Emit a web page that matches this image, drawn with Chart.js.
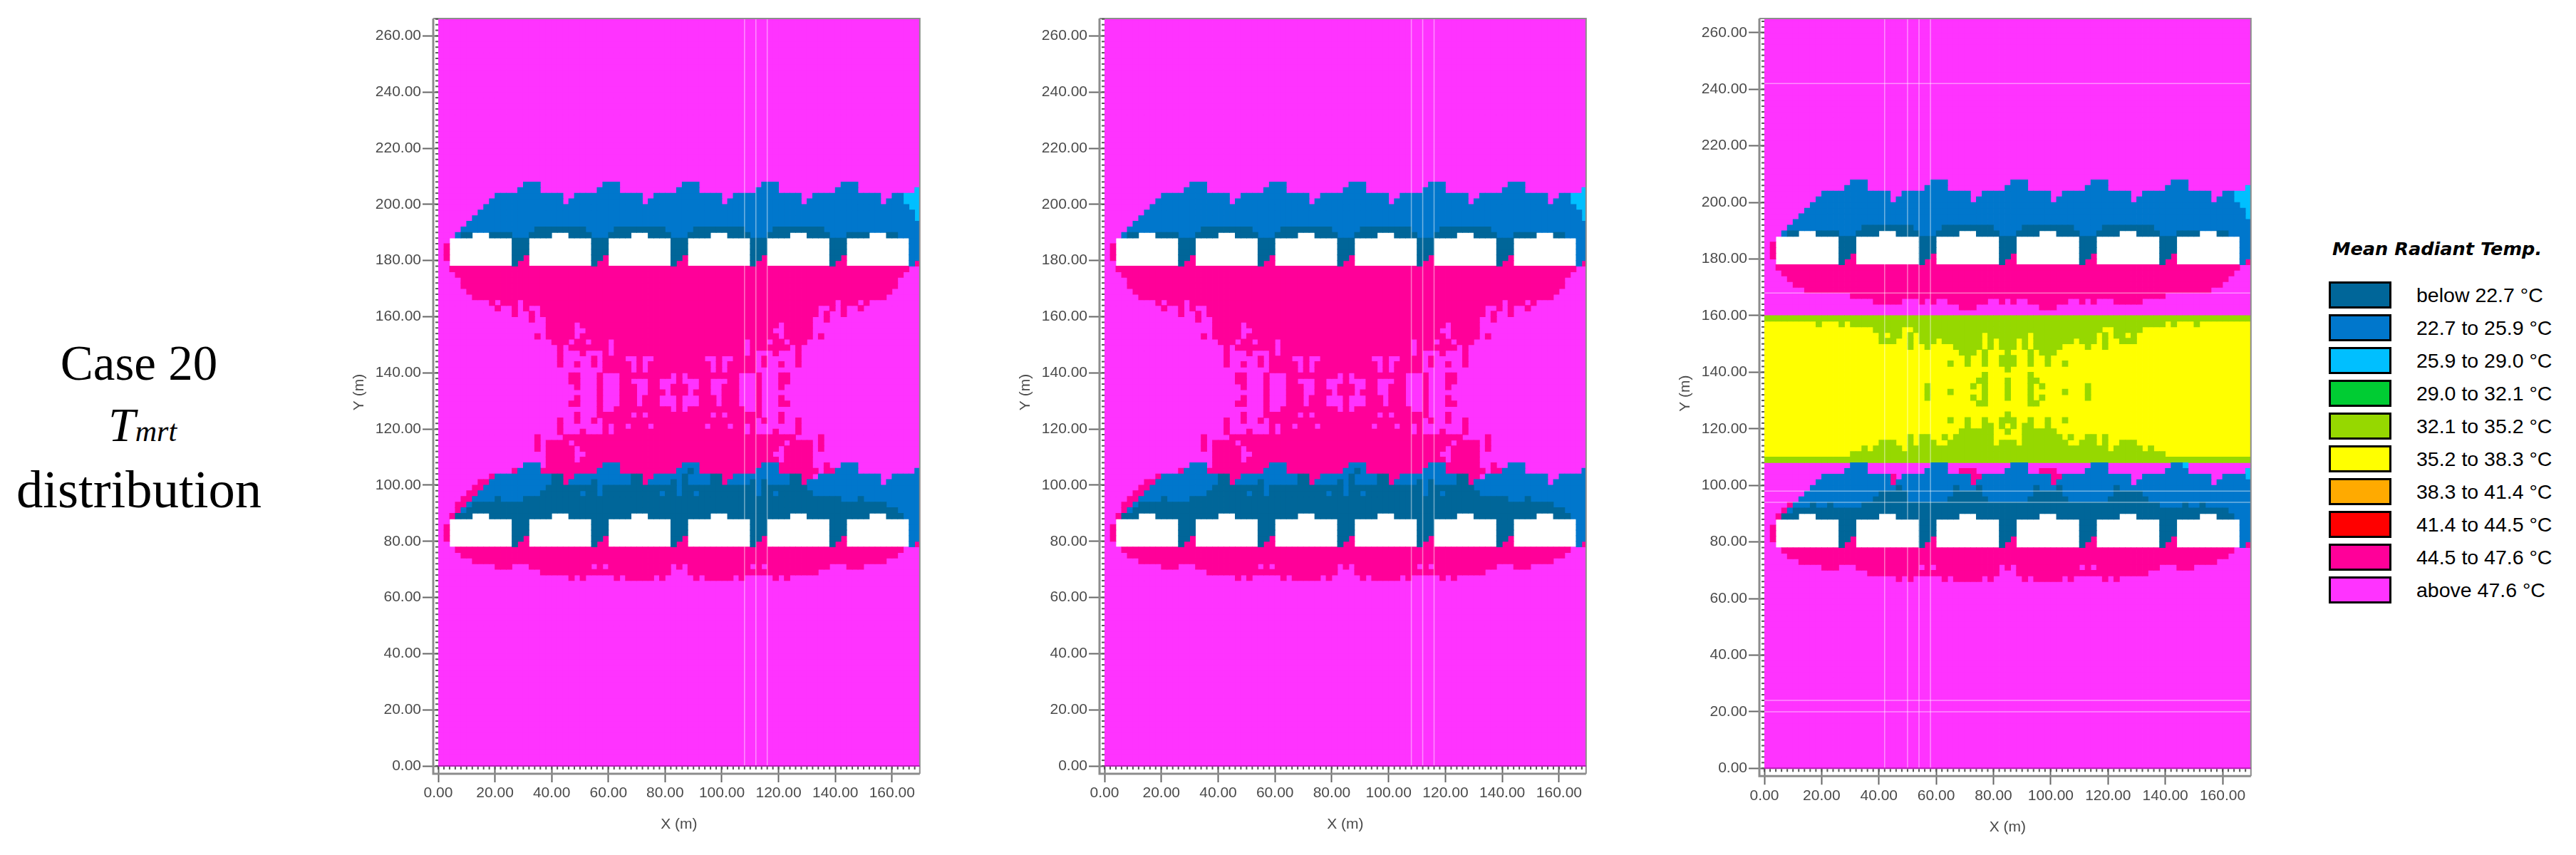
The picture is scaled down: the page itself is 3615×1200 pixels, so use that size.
<!DOCTYPE html>
<html>
<head>
<meta charset="utf-8">
<title>Case 20 Tmrt distribution</title>
<script src="https://cdn.jsdelivr.net/npm/chart.js@4/dist/chart.umd.min.js"></script>
<style>
    html, body { margin: 0; padding: 0; background: #fff; }
    body { position: relative; width: 3615px; height: 1200px; overflow: hidden; }
    canvas { position: absolute; top: 0; filter: blur(0.6px); }
    .cap { position: absolute; left: 0; width: 390px; text-align: center; font-family: "Liberation Serif", serif; color: #000; line-height: 1; white-space: nowrap; }
    .key { position: absolute; box-sizing: border-box; border: 3px solid #000; width: 88px; height: 38px; left: 3268px; }
    .lab { position: absolute; left: 3391px; font: 28.5px/38px "Liberation Sans", sans-serif; color: #000; white-space: nowrap; }
    #legendTitle { position: absolute; left: 3273px; top: 334px; font: italic bold 25.6px/30px "DejaVu Sans", sans-serif; color: #000; white-space: nowrap; }
</style>
</head>
<body>
<div class="cap" style="top:476px;font-size:69px">Case 20</div>
<div class="cap" style="top:562px;font-size:68px;font-style:italic;height:70px"><span style="margin-left:10px">T</span><span style="font-size:42px">mrt</span></div>
<div class="cap" style="top:650px;font-size:74.6px">distribution</div>
<div id="legendTitle">Mean Radiant Temp.</div>
<canvas id="panelA" width="805" height="1200" style="left:492px"></canvas>
<canvas id="panelB" width="805" height="1200" style="left:1427px"></canvas>
<canvas id="panelC" width="812" height="1200" style="left:2353px"></canvas>
<script>
// temperature classes
const classLabels = ['below 22.7 °C', '22.7 to 25.9 °C', '25.9 to 29.0 °C', '29.0 to 32.1 °C', '32.1 to 35.2 °C',
    '35.2 to 38.3 °C', '38.3 to 41.4 °C', '41.4 to 44.5 °C', '44.5 to 47.6 °C', 'above 47.6 °C'];
const classColors = ['#006699', '#0077cc', '#00bfff', '#00cc33', '#96d800', '#ffff00', '#ffaa00', '#ff0000', '#ff0099', '#ff33ff'];

const xTicks = [0, 20, 40, 60, 80, 100, 120, 140, 160];
const yTicks = [0, 20, 40, 60, 80, 100, 120, 140, 160, 180, 200, 220, 240, 260];

// pale lines of the model grid
const paleXab = [108, 112, 116];
const paleXc = [42, 50, 54, 58];
const paleYc = [242, 168, 98, 94, 24, 20];

// cells are 2 m square. every row: [y of the row, "class:columns class:columns"], w = building (no value)
// rows not listed are all class 9
const roofRows = [
    [206, '1:15-17,29-31,43-45,57-59,71-73'],
    [204, '1:14-17,28-31,42-45,56-59,70-73 2:84'],
    [202, '1:10-21,24-35,38-49,52-63,66-77,80-81 2:82-84'],
    [200, '1:9-21,23-35,37-49,51-63,65-77,79-81 2:82-84'],
    [198, '1:8-82 2:83-84'],
    [196, '1:7-83 2:84'],
    [194, '1:6-83 2:84'],
    [192, '1:5-84'],
    [190, '1:4-84 0:17-25,31-39,45-53,59-67'],
    [188, '1:3-84 0:4-5,9-12,16-19,23-26,30-33,37-40,44-47,51-54,58-61,65-68,72-75,79-80 w:6-8,20-22,34-36,48-50,62-64,76-78'],
    [186, 'w:2-12,16-26,30-40,44-54,58-68,72-82 0:13-15,27-29,41-43,55-57,69-71 1:83-84'],
    [184, '8:1 w:2-12,16-26,30-40,44-54,58-68,72-82 0:13-15,27-29,41-43,55-57,69-71 1:83-84'],
    [182, '8:1 w:2-12,16-26,30-40,44-54,58-68,72-82 0:13-15,27-29,41-43,55-57,69-71 1:83-84'],
    [180, '8:1 w:2-12,16-26,30-40,44-54,58-68,72-82 0:13-14,27-28,41-42,55-56,69-70 8:15,29,43,57,71 1:83-84'],
    [178, 'w:2-12,16-26,30-40,44-54,58-68,72-82 0:13,27,41,55,69 8:14-15,28-29,42-43,56-57,70-71 1:83 8:84']
];

const baseRows = [
    [88, '8:2 0:3-81 1:82-84 w:6-8,20-22,34-36,48-50,62-64,76-78'],
    [86, 'w:2-12,16-26,30-40,44-54,58-68,72-82 0:13-15,27-29,41-43,55-57,69-71 1:83-84'],
    [84, '8:1 w:2-12,16-26,30-40,44-54,58-68,72-82 0:13-15,27-29,41-43,55-57,69-71 1:83-84'],
    [82, '8:1 w:2-12,16-26,30-40,44-54,58-68,72-82 0:13-15,27-29,41-43,55-57,69-71 1:83-84'],
    [80, '8:1 w:2-12,16-26,30-40,44-54,58-68,72-82 0:13-14,27-28,41-42,55-56,69-70 8:15,29,43,57,71 1:83-84'],
    [78, 'w:2-12,16-26,30-40,44-54,58-68,72-82 0:13,27,41,55,69 8:14-15,28-29,42-43,56-57,70-71 1:83 8:84'],
    [76, '8:3-81'],
    [74, '8:4-80'],
    [72, '8:6-78'],
    [70, '8:10-12,16-26,28,30-40,42,44-54,56,58-68,72-74'],
    [68, '8:18-40,44-66'],
    [66, '8:23,25,31,33-37,39,45,47-51,53,59,61']
];

// first two panels
const middleRowsAB = [
    [176, '8:2-82'],
    [174, '8:3-81'],
    [172, '8:4-80'],
    [170, '8:4-80'],
    [168, '8:5-79'],
    [166, '8:6-78'],
    [164, '8:9,11-13,15-69,71-73,75'],
    [162, '8:10,13,15,18-66,69,71,74'],
    [160, '8:13,16,18-66,68,71'],
    [158, '8:16,19-65,68'],
    [156, '8:19-23,25-59,61-65'],
    [154, '8:19-23,26-58,61-65'],
    [152, '8:17,19-23,25-59,61-65,67'],
    [150, '8:20-22,24-25,27-29,31-53,55-57,59-60,62-64'],
    [148, '8:21,23-29,31-53,55-61,63'],
    [146, '8:21,25,29,31-53,55,59,63'],
    [144, '8:21,27,29-32,35,38-46,49,52-55,57,63'],
    [142, '8:21,24,27,29-33,35,37-47,49,51-55,57,60,63'],
    [140, '8:29-33,35,37-47,49,51-55'],
    [138, '8:23-24,28,32-40,42,44-52,56,60-61'],
    [136, '8:23-24,28,32-33,37-38,42,46-47,51-52,56,60-61'],
    [134, '8:24,28,32-34,37-38,41-43,46-47,50-52,56,60'],
    [132, '8:28,32-34,37-39,41-43,45-47,50-52,56'],
    [130, '8:24,28,32-34,36-38,42,46-48,50-52,56,60'],
    [128, '8:23-24,28,32-34,36-38,42,46-48,50-52,56,60-61'],
    [126, '8:28,31-40,42,44-53,56'],
    [124, '8:24,28-33,35,37-47,49,51-56,60'],
    [122, '8:21,24,27,29-55,57,60,63'],
    [120, '8:21,29,31-32,34-36,38-46,48-50,52-53,55,63'],
    [118, '8:21,25,29,31-53,55,59,63'],
    [116, '8:17,22-62,67'],
    [114, '8:17,19-22,24-60,62-65,67'],
    [112, '8:17,19-23,25-59,61-65,67'],
    [110, '8:19-23,26-58,61-65'],
    [108, '8:19-23,25-59,61-65'],
    [106, '8:19-65,68 1:15-17,29-31,43-45,57-59,71-73'],
    [104, '8:13,18-27,32-41,46-55,60-66,68-69 1:14-17,28-31,42-45,56-59,70-73,84 0:44'],
    [102, '8:9,22-23,36-37,50-51,64-65 1:10-19,24-33,38-47,52-61,67-77,80-84 0:20-21,34-35,43,48-49,62-63'],
    [100, '8:7-8,22,36,50,64 1:9-19,23-33,37-47,51-61,65-77,79-84 0:20-21,27,34-35,41,43,48-49,55,57,62-63'],
    [98, '8:6-7 1:8-18,65-84 0:19-64 1:28,42,56'],
    [96, '8:5-6 1:7-17,66-84 0:18-65 1:25,28,39,42,45,56,59'],
    [94, '8:4-5 1:6-14,71-84 0:15-70,10,74'],
    [92, '8:3-4 1:5,79-84 0:6-78'],
    [90, '8:3 1:4,81-84 0:5-80']
];

// third panel, with the cool band
const middleRowsC = [
    [176, '8:2-82'],
    [174, '8:3-81'],
    [172, '8:4-80'],
    [170, '8:5-79'],
    [168, '8:7-77'],
    [166, '8:15-69'],
    [164, '8:19-23,27,29,32-38,41,43,46-52,55,57,61-65'],
    [162, '8:34-36,48-50'],
    [158, '4:0-84'],
    [156, '5:0-84 4:9,13,15-69,71,75'],
    [154, '5:0-84 4:19-23,26-58,61-65'],
    [152, '5:0-84 4:20,22-23,25,27-37,39-45,47-57,59,61-62,64'],
    [150, '5:0-84 4:20-22,25,27-29,31-37,39,41-43,45,47-53,55-57,59,62-64'],
    [148, '5:0-84 4:25,28,33-37,39,41-43,45,47-51,56,59'],
    [146, '5:0-84 4:34-36,38,42,46,48-50'],
    [144, '5:0-84 4:35,38,41-43,46,49'],
    [142, '5:0-84 4:32,35,38,41-43,46,49,52'],
    [140, '5:0-84 4:42'],
    [138, '5:0-84 4:38,46'],
    [136, '5:0-84 4:37-38,42,46-47'],
    [134, '5:0-84 4:28,36,38,42,46,48,56'],
    [132, '5:0-84 4:28,32,38,42,46,52,56'],
    [130, '5:0-84 4:28,36,38,42,46,48,56'],
    [128, '5:0-84 4:37-38,46-47'],
    [126, '5:0-84'],
    [124, '5:0-84 4:42'],
    [122, '5:0-84 4:32,35,38,41-43,46,49,52'],
    [120, '5:0-84 4:35,38-39,41,43,45-46,49'],
    [118, '5:0-84 4:34-39,42,45-50'],
    [116, '5:0-84 4:25,27-28,31,33-39,45-51,53,56-57,59'],
    [114, '5:0-84 4:20-22,25,27-29,32-39,41-43,45-52,55-57,59,62-64'],
    [112, '5:0-84 4:17,19-23,25-59,61-65,67'],
    [110, '5:0-84 4:15-69'],
    [108, '4:0-84'],
    [106, '1:15-17,29-31,43-45,57-59,71-72 2:73'],
    [104, '1:14-17,28-31,42-45,56-59,70-73 8:34-36,48-50 2:84'],
    [102, '1:10-21,24-35,38-49,52-63,66-77,80-83 8:22,36-37,50-51 2:84'],
    [100, '1:9-21,23-35,37-49,51-63,65-77,79-84 8:22,36,50'],
    [98, '1:8-84 0:23,33,37,47,51,61'],
    [96, '1:7-84 0:20-24,33-37,47-51,61-65'],
    [94, '1:6-84 0:19-24,32-38,46-52,60-66'],
    [92, '8:4 1:5-84 0:8,11,17-68,73,76'],
    [90, '8:3 1:4 0:5-80 1:81-84']
];

const COLS = 85, ROWS = 133;

// turn row strings into one point list per class
function cellsFrom(rows) {
    const grid = [];
    for (let r = 0; r < ROWS; r++) grid.push(new Array(COLS).fill(9));
    rows.forEach(([y, spec]) => {
        spec.split(' ').forEach(part => {
            const [cls, cols] = part.split(':');
            cols.split(',').forEach(span => {
                const [a, b] = span.split('-').map(Number);
                for (let c = a; c <= (b === undefined ? a : b); c++) {
                    grid[y / 2][c] = cls === 'w' ? -1 : Number(cls);
                }
            });
        });
    });
    const perClass = classColors.map(() => []);
    grid.forEach((row, r) => row.forEach((cls, c) => {
        if (cls >= 0) perClass[cls].push({ x: c * 2 + 1, y: r * 2 + 1 });
    }));
    return perClass;
}

// frame and small ticks round the plot
const framePlugin = {
    id: 'frame',
    afterDraw(chart) {
        const ctx = chart.ctx, xs = chart.scales.x, ys = chart.scales.y;
        const x0 = xs.getPixelForValue(0), y0 = ys.getPixelForValue(0);
        const right = chart.chartArea.right, top = chart.chartArea.top;
        ctx.save();
        ctx.strokeStyle = '#8c8c8c';
        ctx.lineWidth = 3;
        ctx.beginPath();
        ctx.moveTo(x0 - 7, top);
        ctx.lineTo(x0 - 7, y0 + 11);
        ctx.lineTo(right, y0 + 11);
        ctx.stroke();
        ctx.lineWidth = 2;
        ctx.beginPath();
        ctx.moveTo(x0 - 7, top);
        ctx.lineTo(right, top);
        ctx.lineTo(right, y0 + 11);
        ctx.stroke();
        ctx.strokeStyle = '#b81cb8';
        ctx.beginPath();
        ctx.moveTo(x0, y0);
        ctx.lineTo(right, y0);
        ctx.stroke();
        ctx.fillStyle = '#555';
        for (let v = 0; v < xs.max; v += 2) {
            ctx.fillRect(xs.getPixelForValue(v) - 1, y0 + 1, 2, 4);
        }
        for (let v = 0; v < ys.max; v += 2) {
            ctx.fillRect(x0 - 4, ys.getPixelForValue(v) - 1, 4, 2);
        }
        ctx.restore();
    }
};

function palePoints(xs, ys, xMax, yMax) {
    const sets = [];
    xs.forEach(v => sets.push([{ x: v, y: 0 }, { x: v, y: yMax }]));
    ys.forEach(v => sets.push([{ x: 0, y: v }, { x: xMax, y: v }]));
    return sets;
}

function initPanel(id, rows, pale, box) {
    const perClass = cellsFrom(rows);
    const lines = palePoints(pale.x, pale.y, box.xMax, box.yMax).map(pts => ({
        data: pts,
        showLine: true,
        borderColor: 'rgba(255,255,255,0.45)',
        borderWidth: 1.5,
        pointRadius: 0
    }));
    const cells = perClass.map((pts, i) => ({
        label: classLabels[i],
        data: pts,
        backgroundColor: classColors[i],
        pointStyle: 'rect',
        pointRadius: 6.2,
        pointBorderWidth: 0,
        pointHoverRadius: 6.2
    }));
    new Chart(document.getElementById(id), {
        type: 'scatter',
        data: { datasets: lines.concat(cells) },
        options: {
            responsive: false,
            animation: false,
            devicePixelRatio: 1,
            layout: { padding: { top: 26, right: box.padRight, bottom: box.padBottom, left: 0 } },
            plugins: { legend: { display: false }, tooltip: { enabled: false } },
            events: [],
            scales: {
                x: {
                    type: 'linear',
                    min: 0,
                    max: box.xMax,
                    afterBuildTicks: s => { s.ticks = xTicks.map(v => ({ value: v })); },
                    afterFit: s => { s.height = box.xAxisH; },
                    border: { display: false },
                    grid: { drawOnChartArea: false, tickLength: 23, tickColor: '#666', tickWidth: 2 },
                    ticks: {
                        color: '#4a4a4a',
                        font: { family: 'Liberation Sans', size: 21 },
                        padding: 3,
                        maxRotation: 0,
                        autoSkip: false,
                        callback: v => v.toFixed(2)
                    },
                    title: { display: true, text: 'X (m)', color: '#4a4a4a', padding: 0, font: { family: 'Liberation Sans', size: 21 } }
                },
                y: {
                    type: 'linear',
                    min: 0,
                    max: box.yMax,
                    afterBuildTicks: s => { s.ticks = yTicks.map(v => ({ value: v })); },
                    afterFit: s => { s.width = 123; },
                    border: { display: false },
                    grid: { drawOnChartArea: false, tickLength: 22, tickColor: '#666', tickWidth: 2 },
                    ticks: {
                        color: '#4a4a4a',
                        font: { family: 'Liberation Sans', size: 21 },
                        padding: 2,
                        autoSkip: false,
                        callback: v => v.toFixed(2)
                    },
                    title: { display: true, text: 'Y (m)', color: '#4a4a4a', padding: 0, font: { family: 'Liberation Sans', size: 21 } }
                }
            }
        },
        plugins: [framePlugin]
    });
}

function initLegend() {
    classLabels.forEach((text, i) => {
        const top = 394.6 + i * 46;
        const key = document.createElement('div');
        key.className = 'key';
        key.style.top = top + 'px';
        key.style.background = classColors[i];
        document.body.appendChild(key);
        const lab = document.createElement('div');
        lab.className = 'lab';
        lab.style.top = top + 'px';
        lab.innerText = text;
        document.body.appendChild(lab);
    });
}

const abRows = roofRows.concat(middleRowsAB, baseRows);
const cRows = roofRows.concat(middleRowsC, baseRows);

initPanel('panelA', abRows, { x: paleXab, y: [] }, { xMax: 169.8, yMax: 266.2, padRight: 6, padBottom: 30, xAxisH: 95 });
initPanel('panelB', abRows, { x: paleXab, y: [] }, { xMax: 169.5, yMax: 266.2, padRight: 4.5, padBottom: 30, xAxisH: 95 });
initPanel('panelC', cRows, { x: paleXc, y: paleYc }, { xMax: 169.9, yMax: 265, padRight: 6, padBottom: 26, xAxisH: 95.7 });
initLegend();
</script>
</body>
</html>
